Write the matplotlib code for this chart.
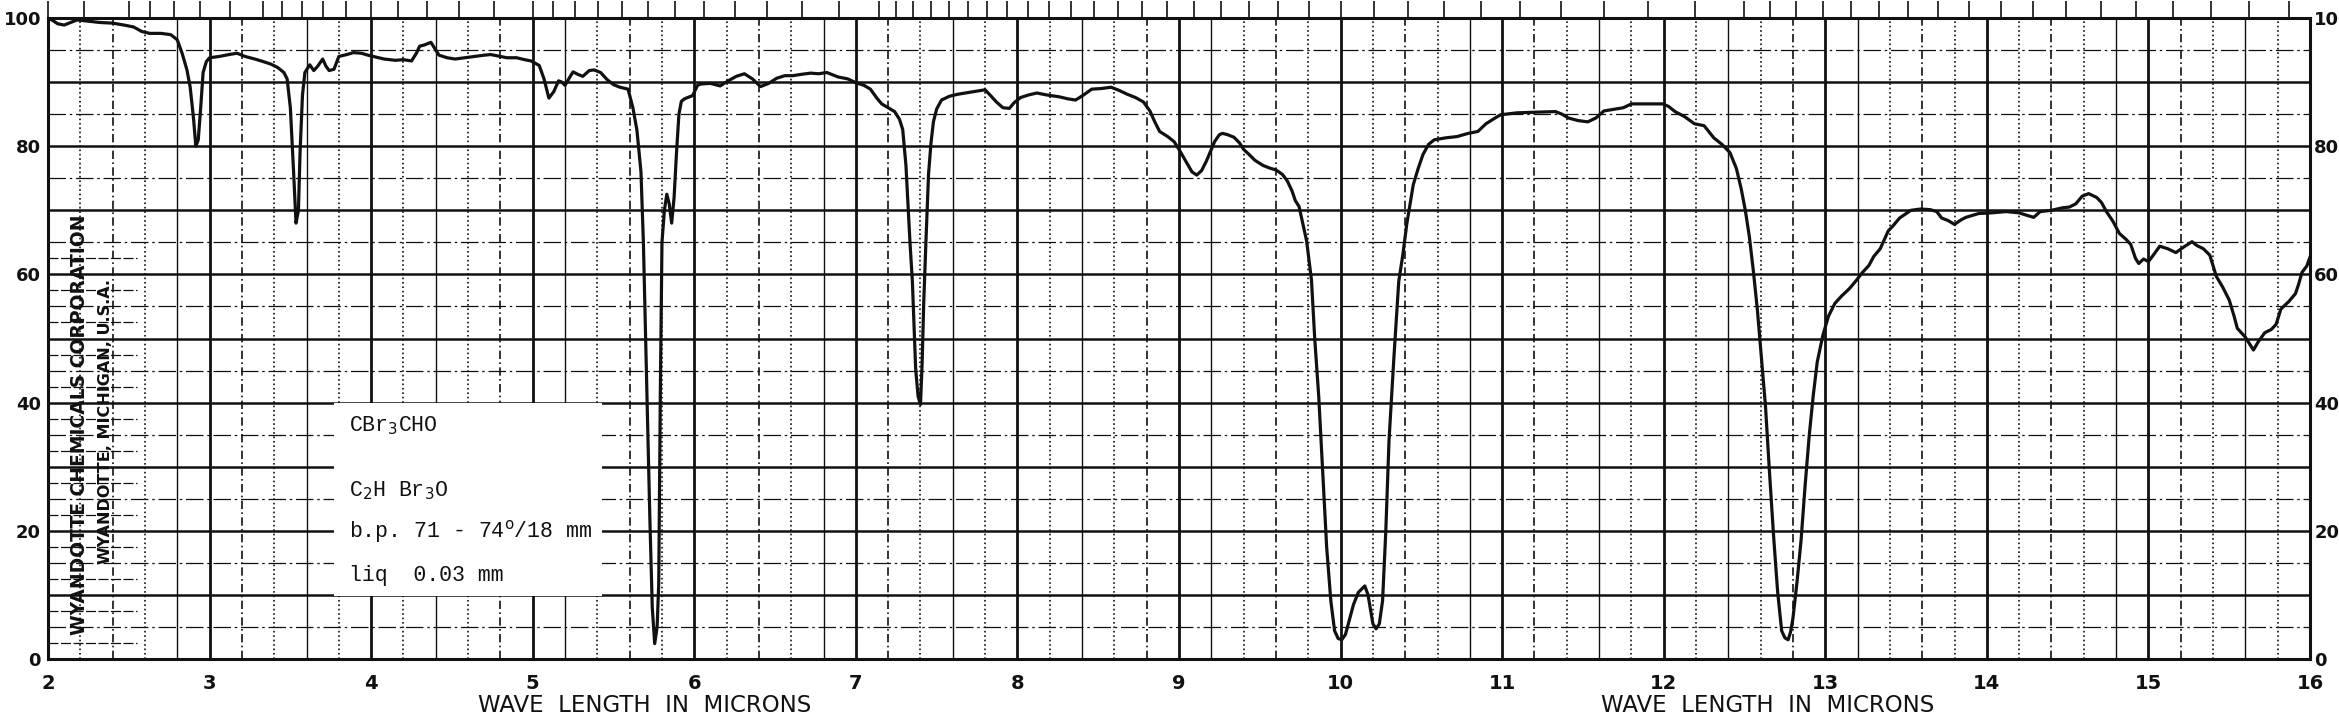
import numpy as np
import matplotlib
matplotlib.use("Agg")
import matplotlib.pyplot as plt
from matplotlib.patches import Rectangle
import matplotlib.transforms as mtransforms

# ---------------- data ----------------
wavelength = [2.00, 2.03, 2.06, 2.10, 2.14, 2.18, 2.25, 2.32, 2.40, 2.47, 2.53, 2.58, 2.63, 2.70, 2.76, 2.80,
              2.83, 2.86, 2.88, 2.90, 2.915, 2.93, 2.945, 2.96, 2.98, 3.00, 3.06, 3.12, 3.17, 3.22, 3.28, 3.32,
              3.38, 3.42, 3.46, 3.48, 3.50, 3.52, 3.535, 3.55, 3.56, 3.575, 3.59, 3.62, 3.645, 3.67, 3.70, 3.72,
              3.74, 3.77, 3.80, 3.85, 3.89, 3.94, 3.98, 4.03, 4.08, 4.15, 4.20, 4.25, 4.28, 4.30, 4.33, 4.37,
              4.40, 4.42, 4.47, 4.52, 4.58, 4.64, 4.70, 4.74, 4.80, 4.84, 4.90, 4.95, 4.99, 5.04, 5.07, 5.10,
              5.13, 5.16, 5.18, 5.20, 5.23, 5.25, 5.28, 5.31, 5.35, 5.38, 5.42, 5.46, 5.50, 5.54, 5.59, 5.62,
              5.645, 5.67, 5.685, 5.695, 5.71, 5.725, 5.74, 5.755, 5.77, 5.78, 5.79, 5.80, 5.815, 5.83, 5.845,
              5.86, 5.875, 5.89, 5.905, 5.92, 5.94, 5.99, 6.02, 6.04, 6.10, 6.16, 6.21, 6.26, 6.31, 6.36, 6.41,
              6.46, 6.51, 6.56, 6.61, 6.66, 6.72, 6.77, 6.82, 6.89, 6.95, 7.00, 7.05, 7.09, 7.13, 7.16, 7.20,
              7.24, 7.27, 7.29, 7.31, 7.32, 7.335, 7.35, 7.36, 7.37, 7.385, 7.40, 7.41, 7.42, 7.435, 7.45, 7.465,
              7.48, 7.50, 7.53, 7.58, 7.63, 7.70, 7.75, 7.80, 7.83, 7.87, 7.91, 7.95, 7.98, 8.02, 8.07, 8.12,
              8.18, 8.26, 8.31, 8.36, 8.41, 8.46, 8.52, 8.58, 8.63, 8.68, 8.73, 8.78, 8.82, 8.85, 8.88, 8.93,
              8.97, 9.00, 9.05, 9.08, 9.11, 9.14, 9.17, 9.20, 9.22, 9.25, 9.27, 9.30, 9.34, 9.375, 9.40, 9.43,
              9.47, 9.52, 9.56, 9.60, 9.64, 9.67, 9.70, 9.72, 9.743, 9.77, 9.79, 9.82, 9.84, 9.865, 9.89, 9.914,
              9.94, 9.963, 9.985, 10.007, 10.03, 10.05, 10.08, 10.11, 10.15, 10.17, 10.185, 10.20, 10.22, 10.24,
              10.26, 10.28, 10.30, 10.33, 10.36, 10.385, 10.41, 10.43, 10.45, 10.48, 10.51, 10.545, 10.58, 10.65,
              10.72, 10.79, 10.85, 10.90, 10.95, 10.99, 11.09, 11.20, 11.33, 11.37, 11.41, 11.47, 11.53, 11.58,
              11.63, 11.70, 11.75, 11.80, 11.90, 11.995, 12.03, 12.07, 12.13, 12.19, 12.25, 12.31, 12.36, 12.41,
              12.45, 12.48, 12.505, 12.53, 12.555, 12.58, 12.605, 12.63, 12.655, 12.68, 12.705, 12.73, 12.75,
              12.77, 12.785, 12.80, 12.825, 12.85, 12.875, 12.90, 12.925, 12.95, 12.985, 13.02, 13.06, 13.10,
              13.15, 13.19, 13.23, 13.27, 13.30, 13.34, 13.39, 13.42, 13.46, 13.53, 13.59, 13.65, 13.69, 13.72,
              13.76, 13.80, 13.84, 13.87, 13.91, 13.95, 14.03, 14.12, 14.20, 14.25, 14.29, 14.33, 14.40, 14.47,
              14.51, 14.55, 14.59, 14.63, 14.68, 14.71, 14.74, 14.78, 14.82, 14.86, 14.89, 14.92, 14.94, 14.97,
              15.00, 15.03, 15.07, 15.12, 15.17, 15.22, 15.27, 15.30, 15.34, 15.38, 15.42, 15.46, 15.50, 15.53,
              15.55, 15.60, 15.65, 15.68, 15.72, 15.76, 15.79, 15.82, 15.87, 15.91, 15.93, 15.95, 15.98, 16.00]

transmittance = [100.0, 99.6, 99.1, 98.9, 99.3, 99.7, 99.5, 99.3, 99.2, 98.9, 98.6, 97.9, 97.6, 97.6, 97.4, 96.6,
                 94.5, 91.9, 89.2, 84.5, 80.0, 81.0, 86.0, 91.5, 93.2, 93.8, 94.0, 94.3, 94.5, 94.0, 93.6, 93.3,
                 92.8, 92.3, 91.5, 90.5, 86.0, 76.0, 68.0, 70.0, 79.0, 88.0, 91.5, 92.7, 91.8, 92.5, 93.6, 92.5,
                 91.8, 92.0, 94.0, 94.3, 94.6, 94.5, 94.2, 93.9, 93.6, 93.4, 93.5, 93.3, 94.5, 95.6, 95.8, 96.2,
                 95.0, 94.2, 93.8, 93.6, 93.8, 94.0, 94.2, 94.3, 94.0, 93.8, 93.8, 93.5, 93.3, 92.6, 90.5, 87.5,
                 88.5, 90.2, 90.0, 89.5, 90.8, 91.6, 91.2, 90.9, 91.8, 91.9, 91.5, 90.4, 89.6, 89.2, 88.9, 86.0,
                 82.5, 76.0, 65.0, 54.0, 38.0, 22.0, 8.0, 2.4, 5.0, 11.8, 42.0, 65.0, 70.0, 72.5, 71.0,
                 68.0, 72.0, 79.0, 85.0, 87.0, 87.4, 87.9, 89.5, 89.7, 89.8, 89.4, 90.2, 90.9, 91.3, 90.5, 89.3,
                 89.8, 90.6, 91.0, 91.0, 91.2, 91.4, 91.3, 91.5, 90.8, 90.5, 89.9, 89.5, 88.9, 87.5, 86.6, 86.0,
                 85.4, 84.2, 82.6, 77.0, 72.3, 65.0, 58.8, 52.0, 45.3, 41.0, 39.7, 46.0, 55.6, 66.0, 75.7, 80.5,
                 83.8, 85.8, 87.2, 87.8, 88.1, 88.4, 88.6, 88.8, 88.0, 86.9, 86.0, 85.9, 86.8, 87.6, 88.0, 88.3,
                 88.0, 87.7, 87.4, 87.2, 88.0, 88.9, 89.0, 89.2, 88.7, 88.1, 87.6, 86.9, 85.5, 83.8, 82.3, 81.5,
                 80.7, 79.5, 77.3, 76.0, 75.5, 76.2, 77.7, 79.5, 80.7, 81.8, 82.0, 81.8, 81.4, 80.5, 79.5, 78.8,
                 77.8, 77.0, 76.6, 76.3, 75.6, 74.6, 73.0, 71.5, 70.6, 67.5, 65.2, 59.1, 50.0, 40.9, 29.0, 17.4,
                 9.0, 4.4, 3.2, 3.0, 3.8, 5.7, 8.5, 10.4, 11.4, 10.0, 7.7, 5.5, 4.7, 5.5,
                 9.1, 20.0, 34.2, 47.0, 58.9, 63.0, 67.9, 71.0, 74.0, 76.5, 78.7, 80.3, 81.0, 81.3,
                 81.5, 82.0, 82.3, 83.5, 84.3, 84.9, 85.2, 85.3, 85.4, 85.0, 84.4, 84.0, 83.8, 84.4,
                 85.5, 85.8, 86.0, 86.6, 86.6, 86.6, 86.2, 85.4, 84.6, 83.5, 83.2, 81.3, 80.3, 79.0,
                 76.5, 73.3, 70.0, 65.9, 60.5, 54.4, 47.0, 39.4, 29.0, 19.2, 10.5, 4.4, 3.3,
                 3.0, 4.2, 6.4, 12.0, 18.5, 27.0, 34.7, 41.0, 46.3, 50.5, 53.5, 55.5, 56.6,
                 57.8, 59.0, 60.3, 61.4, 62.8, 64.0, 66.8, 67.6, 68.8, 70.0, 70.2, 70.1, 69.8, 68.8,
                 68.4, 67.8, 68.5, 68.9, 69.2, 69.5, 69.6, 69.8, 69.6, 69.2, 68.9, 69.8, 70.0, 70.4,
                 70.5, 71.0, 72.2, 72.6, 72.0, 71.2, 69.8, 68.3, 66.4, 65.5, 64.7, 62.5, 61.7, 62.4,
                 62.0, 63.0, 64.4, 64.0, 63.4, 64.3, 65.1, 64.5, 64.0, 63.0, 59.7, 58.0, 56.0, 53.5,
                 51.6, 50.2, 48.2, 49.5, 50.9, 51.4, 52.2, 54.6, 55.8, 57.0, 58.5, 60.3, 61.3, 62.7]

x_ticks = [2, 3, 4, 5, 6, 7, 8, 9, 10, 11, 12, 13, 14, 15, 16]
x_tick_labels = ["2", "3", "4", "5", "6", "7", "8", "9", "10", "11", "12", "13", "14", "15", "16"]
y_ticks = [0, 20, 40, 60, 80, 100]
y_tick_labels = ["0", "20", "40", "60", "80", "100"]

# wavenumber marks printed along the top edge (cm-1)
top_wavenumbers = ([5000, 4500, 4000, 3800, 3600, 3400, 3200, 3000]
                   + list(range(2900, 1999, -100))
                   + list(range(1950, 1399, -50))
                   + list(range(1380, 799, -20))
                   + list(range(790, 629, -10)))

sample_lines = ["CBr$_3$CHO", "C$_2$H Br$_3$O", "b.p. 71 - 74$^{\\rm o}$/18 mm", "liq  0.03 mm"]
sample_line_y = [36.4, 26.3, 19.9, 13.1]
company_lines = ["WYANDOTTE CHEMICALS CORPORATION", "WYANDOTTE, MICHIGAN, U.S.A."]
axis_title = "WAVE  LENGTH  IN  MICRONS"

# ---------------- figure ----------------
W, H = 2339, 718
fig = plt.figure(figsize=(W / 100, H / 100), dpi=100)
fig.patch.set_facecolor("white")
L, R, T, B = 48, 2310, 18, 659
ax = fig.add_axes([L / W, 1 - B / H, (R - L) / W, (B - T) / H])
ax.set_xlim(2, 16)
ax.set_ylim(0, 100)
ax.set_facecolor("white")

ink = "#111111"

# grid: verticals
minor_x = np.round(np.arange(2.2, 16.0, 0.2), 2)
styles_v = [":", (0, (5, 2, 1, 2)), ":", "-"]
for i, xv in enumerate(minor_x):
    if abs(xv - round(xv)) < 1e-6:
        continue
    st = styles_v[i % len(styles_v)]
    ax.axvline(xv, color=ink, lw=1.0 if st == "-" else 1.2, ls=st, zorder=1)
for xv in range(3, 16):
    ax.axvline(xv, color=ink, lw=2.0, zorder=1)

# grid: horizontals
for yv in range(10, 100, 10):
    ax.axhline(yv, color=ink, lw=1.8, zorder=1)
for yv in range(5, 100, 10):
    ax.axhline(yv, color=ink, lw=0.9, ls=(0, (14, 3, 2, 3)), zorder=1)
# dense ruling in the lower left corner
for yv in np.arange(2.5, 66, 2.5):
    if yv % 5 == 0:
        continue
    ax.plot([2.0, 2.55], [yv, yv], color=ink, lw=0.9, ls=(0, (8, 2)), zorder=1)

# sample description box
ax.add_patch(Rectangle((3.77, 9.8), 5.43 - 3.77, 39.9 - 9.8, facecolor="white",
                       edgecolor="none", zorder=3))
for txt, yv in zip(sample_lines, sample_line_y):
    ax.text(3.86, yv, txt, fontsize=15.5, family="Liberation Mono", color=ink,
            va="center", ha="left", zorder=4)

# company imprint
ax.text(2.195, 36.6, company_lines[0], rotation=90, fontsize=13.5, fontweight="heavy",
        color=ink, ha="center", va="center", zorder=4)
ax.text(2.355, 37.0, company_lines[1], rotation=90, fontsize=11.5, fontweight="heavy",
        color=ink, ha="center", va="center", zorder=4)

# spectrum
ax.plot(wavelength, transmittance, color=ink, lw=2.3, zorder=5, solid_joinstyle="round")

# spines
for s in ax.spines.values():
    s.set_linewidth(2.2)
    s.set_color(ink)
    s.set_zorder(6)

# ticks / labels
ax.set_xticks(x_ticks)
ax.set_xticklabels(x_tick_labels, fontsize=14, fontweight="bold", color=ink)
ax.set_yticks(y_ticks)
ax.set_yticklabels(y_tick_labels, fontsize=13, fontweight="bold", color=ink)
ax.tick_params(axis="x", length=0, pad=11)
ax.tick_params(axis="y", length=0, pad=5)

ax2 = ax.twinx()
ax2.set_ylim(0, 100)
ax2.set_yticks(y_ticks)
ax2.set_yticklabels(y_tick_labels, fontsize=13, fontweight="bold", color=ink)
ax2.tick_params(axis="y", length=0, pad=3)
for s in ax2.spines.values():
    s.set_visible(False)

# top wavenumber tick marks
trans = mtransforms.blended_transform_factory(ax.transData, ax.transAxes)
top_x = [1e4 / wn for wn in top_wavenumbers]
ax.vlines(top_x, 1.0, 1.0 + 17 / (B - T), transform=trans, colors=ink, lw=1.2,
          clip_on=False, zorder=6)

# axis titles
fig.text(645 / W, 1 - 706 / H, axis_title, fontsize=16.5, color=ink, ha="center", va="center")
fig.text(1768 / W, 1 - 706 / H, axis_title, fontsize=16.5, color=ink, ha="center", va="center")

fig.savefig("out.png", dpi=100, facecolor="white")
